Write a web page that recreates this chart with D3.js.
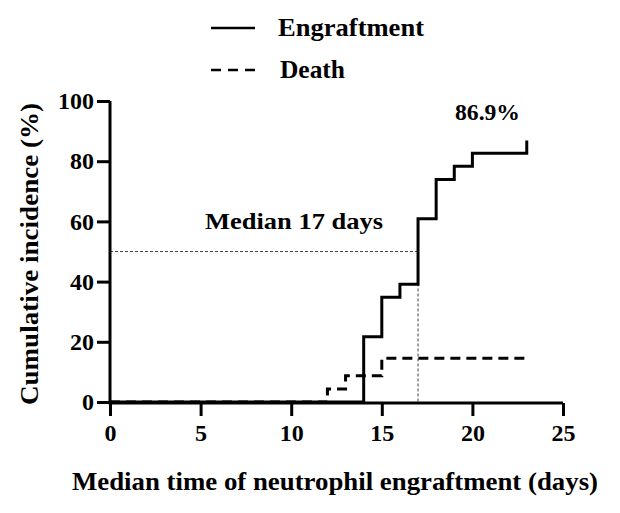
<!DOCTYPE html>
<html>
<head>
<meta charset="utf-8">
<script src="https://cdn.jsdelivr.net/npm/d3@7"></script>
<style>
  body { margin: 0; background: #fff; }
  text { font-family: "Liberation Serif", "Times New Roman", serif; font-weight: bold; fill: #000; }
</style>
</head>
<body>
<div id="chart"></div>
<script>
// data
var engraftDays = [0, 14, 15, 16, 17, 18, 19, 20, 23];
var engraftPct = [0, 21.7, 34.8, 39.1, 60.9, 73.9, 78.3, 82.6, 86.9];
var deathDays = [0, 12, 13, 15, 23];
var deathPct = [0, 4.3, 8.7, 14.5, 14.5];
var xTicks = [0, 5, 10, 15, 20, 25];
var yTicks = [0, 20, 40, 60, 80, 100];
var medianDay = 17, medianPct = 50;

// layout
var W = 620, H = 513;
var margin = { top: 101, right: 57, bottom: 111, left: 110 },
    width = W - margin.left - margin.right,
    height = H - margin.top - margin.bottom;

var svg = d3.select("#chart").append("svg")
    .attr("width", W)
    .attr("height", H);

var g = svg.append("g")
    .attr("transform", "translate(" + margin.left + "," + margin.top + ")");

var x = d3.scaleLinear().domain([0, 25]).range([0, width]);
var y = d3.scaleLinear().domain([0, 100]).range([height, 0]);

// median guide lines
g.append("path")
    .attr("d", "M" + x(0) + "," + y(medianPct) + "H" + x(medianDay) + "V" + y(0))
    .attr("fill", "none")
    .attr("stroke", "#444")
    .attr("stroke-width", 1)
    .attr("stroke-dasharray", "3,2");

// x axis
var xAxis = g.append("g")
    .attr("transform", "translate(0," + (height + 1) + ")")
    .call(d3.axisBottom(x).tickValues(xTicks).tickSize(13).tickPadding(8).tickFormat(d3.format("d")));

// y axis
var yAxis = g.append("g")
    .call(d3.axisLeft(y).tickValues(yTicks).tickSize(13).tickPadding(3).tickFormat(d3.format("d")));

[xAxis, yAxis].forEach(function (a) {
    a.select(".domain").attr("stroke-width", 3).attr("stroke", "#000");
    a.selectAll(".tick line").attr("stroke-width", 3).attr("stroke", "#000");
    a.selectAll(".tick text").style("font-size", "24px").attr("fill", "#000");
});
xAxis.select(".domain").attr("d", "M" + x(0) + ",0H" + x(25));
yAxis.select(".domain").attr("d", "M0," + y(100) + "V" + (y(0) + 2.5));

var line = d3.line()
    .x(function (d) { return x(d[0]); })
    .y(function (d) { return y(d[1]); })
    .curve(d3.curveStepAfter);

var engraft = engraftDays.map(function (d, i) { return [d, engraftPct[i]]; });
var death = deathDays.map(function (d, i) { return [d, deathPct[i]]; });

g.append("path")
    .datum(death)
    .attr("d", line)
    .attr("fill", "none")
    .attr("stroke", "#000")
    .attr("stroke-width", 3)
    .attr("stroke-dasharray", "10,6");

g.append("path")
    .datum(engraft)
    .attr("d", line)
    .attr("fill", "none")
    .attr("stroke", "#000")
    .attr("stroke-width", 3);

// annotations
svg.append("text")
    .attr("x", 205)
    .attr("y", 229)
    .attr("textLength", 178)
    .attr("lengthAdjust", "spacingAndGlyphs")
    .style("font-size", "24px")
    .text("Median 17 days");

svg.append("text")
    .attr("x", 455)
    .attr("y", 120)
    .attr("textLength", 65)
    .attr("lengthAdjust", "spacingAndGlyphs")
    .style("font-size", "24px")
    .text("86.9%");

// legend
var legendItems = [
    { label: "Engraftment", dash: null, y: 28, len: 146 },
    { label: "Death", dash: "10,7", y: 70, len: 65 }
];
var legend = svg.selectAll(".legend")
    .data(legendItems)
    .enter().append("g")
    .attr("class", "legend")
    .attr("transform", function (d) { return "translate(211," + d.y + ")"; });

legend.append("line")
    .attr("x1", 0).attr("x2", 44)
    .attr("stroke", "#000")
    .attr("stroke-width", 2.5)
    .attr("stroke-dasharray", function (d) { return d.dash; });

legend.append("text")
    .attr("x", function (d, i) { return i ? 69 : 67; })
    .attr("dy", "0.33em")
    .attr("textLength", function (d) { return d.len; })
    .attr("lengthAdjust", "spacingAndGlyphs")
    .style("font-size", "25px")
    .text(function (d) { return d.label; });

// axis titles
svg.append("text")
    .attr("transform", "translate(38,254) rotate(-90)")
    .style("text-anchor", "middle")
    .style("font-size", "26px")
    .attr("textLength", 302)
    .attr("lengthAdjust", "spacingAndGlyphs")
    .text("Cumulative incidence (%)");

svg.append("text")
    .attr("x", 72)
    .attr("y", 490)
    .style("font-size", "26px")
    .attr("textLength", 526)
    .attr("lengthAdjust", "spacingAndGlyphs")
    .text("Median time of neutrophil engraftment (days)");
</script>
</body>
</html>
